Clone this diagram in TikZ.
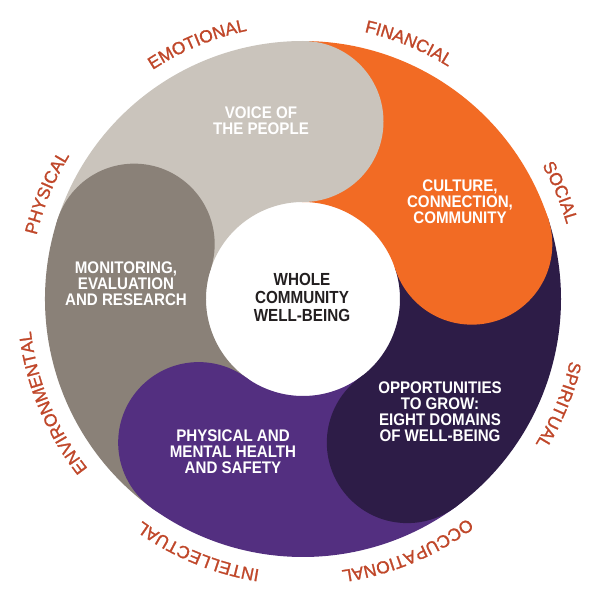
\documentclass[tikz,border=0pt]{standalone}
\usepackage{fontspec}
\setmainfont{Liberation Sans}
\newfontfamily\segfont{Liberation Sans}[FakeStretch=0.9]
\newfontfamily\ctrfont{Liberation Sans}[FakeStretch=0.87]
\newfontfamily\lblfont{Liberation Sans}[FakeBold=1.2]
\usetikzlibrary{decorations.text}
\definecolor{lgray}{HTML}{CAC4BC}
\definecolor{dgray}{HTML}{8A8178}
\definecolor{orng}{HTML}{F26B24}
\definecolor{dpurp}{HTML}{2D1C47}
\definecolor{purp}{HTML}{532F80}
\definecolor{lblcol}{HTML}{C0472A}
\definecolor{ctrcol}{HTML}{231F20}
\newcommand\lblfmt{\lblfont\fontsize{17.5}{17.5}\selectfont}
\newcommand\ringsector[3]{% color, start angle, end angle
  \fill[#1] (#2:258pt) arc[start angle=#2, end angle=#3, radius=258pt]
    -- (#3:97pt) arc[start angle=#3, end angle=#2, radius=97pt] -- cycle;}
\newcommand\ringcap[2]{\fill[#1] (#2:177.5pt) circle[radius=80.5pt];}
\newcommand\ringlabel[2]{%
  \path[decorate,decoration={text along path,text={|\lblfmt|#2},
    text align=center,text color=lblcol}]
    ({#1+40}:274pt) arc[start angle={#1+40}, end angle={#1-40}, radius=274pt];}
\tikzset{
  segtext/.style={text=white, align=center,
    font=\segfont\bfseries\fontsize{16.8}{16}\selectfont},
  ctrtext/.style={text=ctrcol, align=center,
    font=\ctrfont\bfseries\fontsize{17.5}{18}\selectfont}
}
\begin{document}
\begin{tikzpicture}
\useasboundingbox[fill=white] (-303pt,-301pt) rectangle (297pt,299pt);
% ring sectors
\ringsector{lgray}{162.3}{90}
\ringsector{orng}{90.3}{18}
\ringsector{dpurp}{18.3}{-54}
\ringsector{purp}{-53.7}{-126}
\ringsector{dgray}{-125.7}{-198}
% caps
\ringcap{lgray}{90}
\ringcap{orng}{18}
\ringcap{dpurp}{-54}
\ringcap{purp}{-126}
\ringcap{dgray}{162}
% texts
\node[segtext] (voice) at (-42pt,178pt) {VOICE OF\\THE PEOPLE};
\node[segtext] (monit) at (-177pt,15pt) {MONITORING,\\EVALUATION\\AND RESEARCH};
\node[segtext] (cult) at (157pt,97pt) {CULTURE,\\CONNECTION,\\COMMUNITY};
\node[segtext] (opp) at (137pt,-113pt) {OPPORTUNITIES\\TO GROW:\\EIGHT DOMAINS\\OF WELL-BEING};
\node[segtext] (phys) at (-70pt,-153pt) {PHYSICAL AND\\MENTAL HEALTH\\AND SAFETY};
\node[ctrtext] (center) at (-1pt,2pt) {WHOLE\\COMMUNITY\\WELL-BEING};
% outer labels
\ringlabel{112.5}{EMOTIONAL}
\ringlabel{67.5}{FINANCIAL}
\ringlabel{22.5}{SOCIAL}
\ringlabel{-22.5}{SPIRITUAL}
\ringlabel{-67.5}{OCCUPATIONAL}
\ringlabel{-112.5}{INTELLECTUAL}
\ringlabel{-157.5}{ENVIRONMENTAL}
\ringlabel{157.5}{PHYSICAL}
\end{tikzpicture}
\end{document}
